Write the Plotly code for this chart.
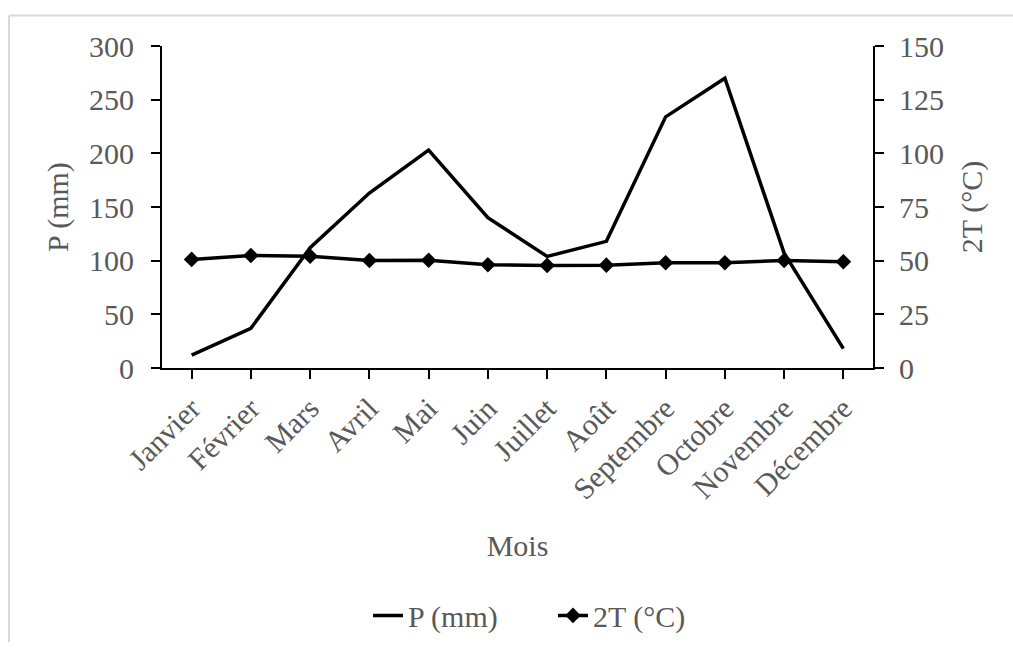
import plotly.graph_objects as go

# Monthly precipitation and doubled mean temperature
mois = ["Janvier", "Février", "Mars", "Avril", "Mai", "Juin", "Juillet",
        "Août", "Septembre", "Octobre", "Novembre", "Décembre"]
p_mm = [12, 37, 112, 163, 203, 140, 104, 118, 234, 270, 107, 18]
t2_c = [50.6, 52.4, 52.1, 50.1, 50.2, 48.1, 47.8, 47.9, 49.0, 49.0, 50.1, 49.5]

left_ticks = [0, 50, 100, 150, 200, 250, 300]
right_ticks = [0, 25, 50, 75, 100, 125, 150]

FONT = "Liberation Serif, Times New Roman, serif"
TEXT = "#595959"

fig = go.Figure()
fig.add_trace(go.Scatter(
    x=mois, y=p_mm, name="P (mm)", mode="lines",
    line=dict(color="black", width=3.5),
))
fig.add_trace(go.Scatter(
    x=mois, y=t2_c, name="2T (°C)", mode="lines+markers", yaxis="y2",
    line=dict(color="black", width=3.5),
    marker=dict(symbol="diamond", size=12, color="black"),
))

# plot area in pixels: x 162..873, y 46..374
L, R, T, B = 162, 140, 46, 279
W, H = 1013, 653
pw, ph = W - L - R, H - T - B


def px(xp):
    return (xp - L) / pw


def py(yp):
    return (H - B - yp) / ph


axis_common = dict(
    showgrid=False, zeroline=False, showline=True, linecolor="black",
    linewidth=2, ticks="outside", ticklen=9, tickwidth=2, tickcolor="black",
    tickfont=dict(family=FONT, size=30, color=TEXT),
)

fig.update_layout(
    width=W, height=H,
    margin=dict(l=L, r=R, t=T, b=B),
    paper_bgcolor="white", plot_bgcolor="white",
    font=dict(family=FONT, size=30, color=TEXT),
    xaxis=dict(
        **axis_common, tickangle=-45, range=[-0.5, 11.5],
        title=dict(text="Mois", font=dict(family=FONT, size=30, color=TEXT), standoff=30),
    ),
    yaxis=dict(
        **axis_common, range=[0, 300], tickvals=left_ticks, ticklabelstandoff=11,
        title=dict(text="P (mm)", font=dict(family=FONT, size=30, color=TEXT), standoff=12),
    ),
    yaxis2=dict(
        **axis_common, range=[0, 150], tickvals=right_ticks, ticklabelstandoff=9,
        overlaying="y", side="right",
        title=dict(text="2T (°C)", font=dict(family=FONT, size=30, color=TEXT), standoff=18),
    ),
    showlegend=True,
    legend=dict(
        orientation="h", x=px(368), xanchor="left", y=py(626), yanchor="middle",
        font=dict(family=FONT, size=30, color=TEXT), bgcolor="rgba(0,0,0,0)",
        entrywidth=140, entrywidthmode="pixels",
    ),
    shapes=[
        dict(type="line", xref="paper", yref="paper",
             x0=px(9), x1=px(1013), y0=py(15), y1=py(15),
             line=dict(color="#d9d9d9", width=2)),
        dict(type="line", xref="paper", yref="paper",
             x0=px(9), x1=px(9), y0=py(15), y1=py(653),
             line=dict(color="#d9d9d9", width=2)),
    ],
)

fig.write_html("out.html")
